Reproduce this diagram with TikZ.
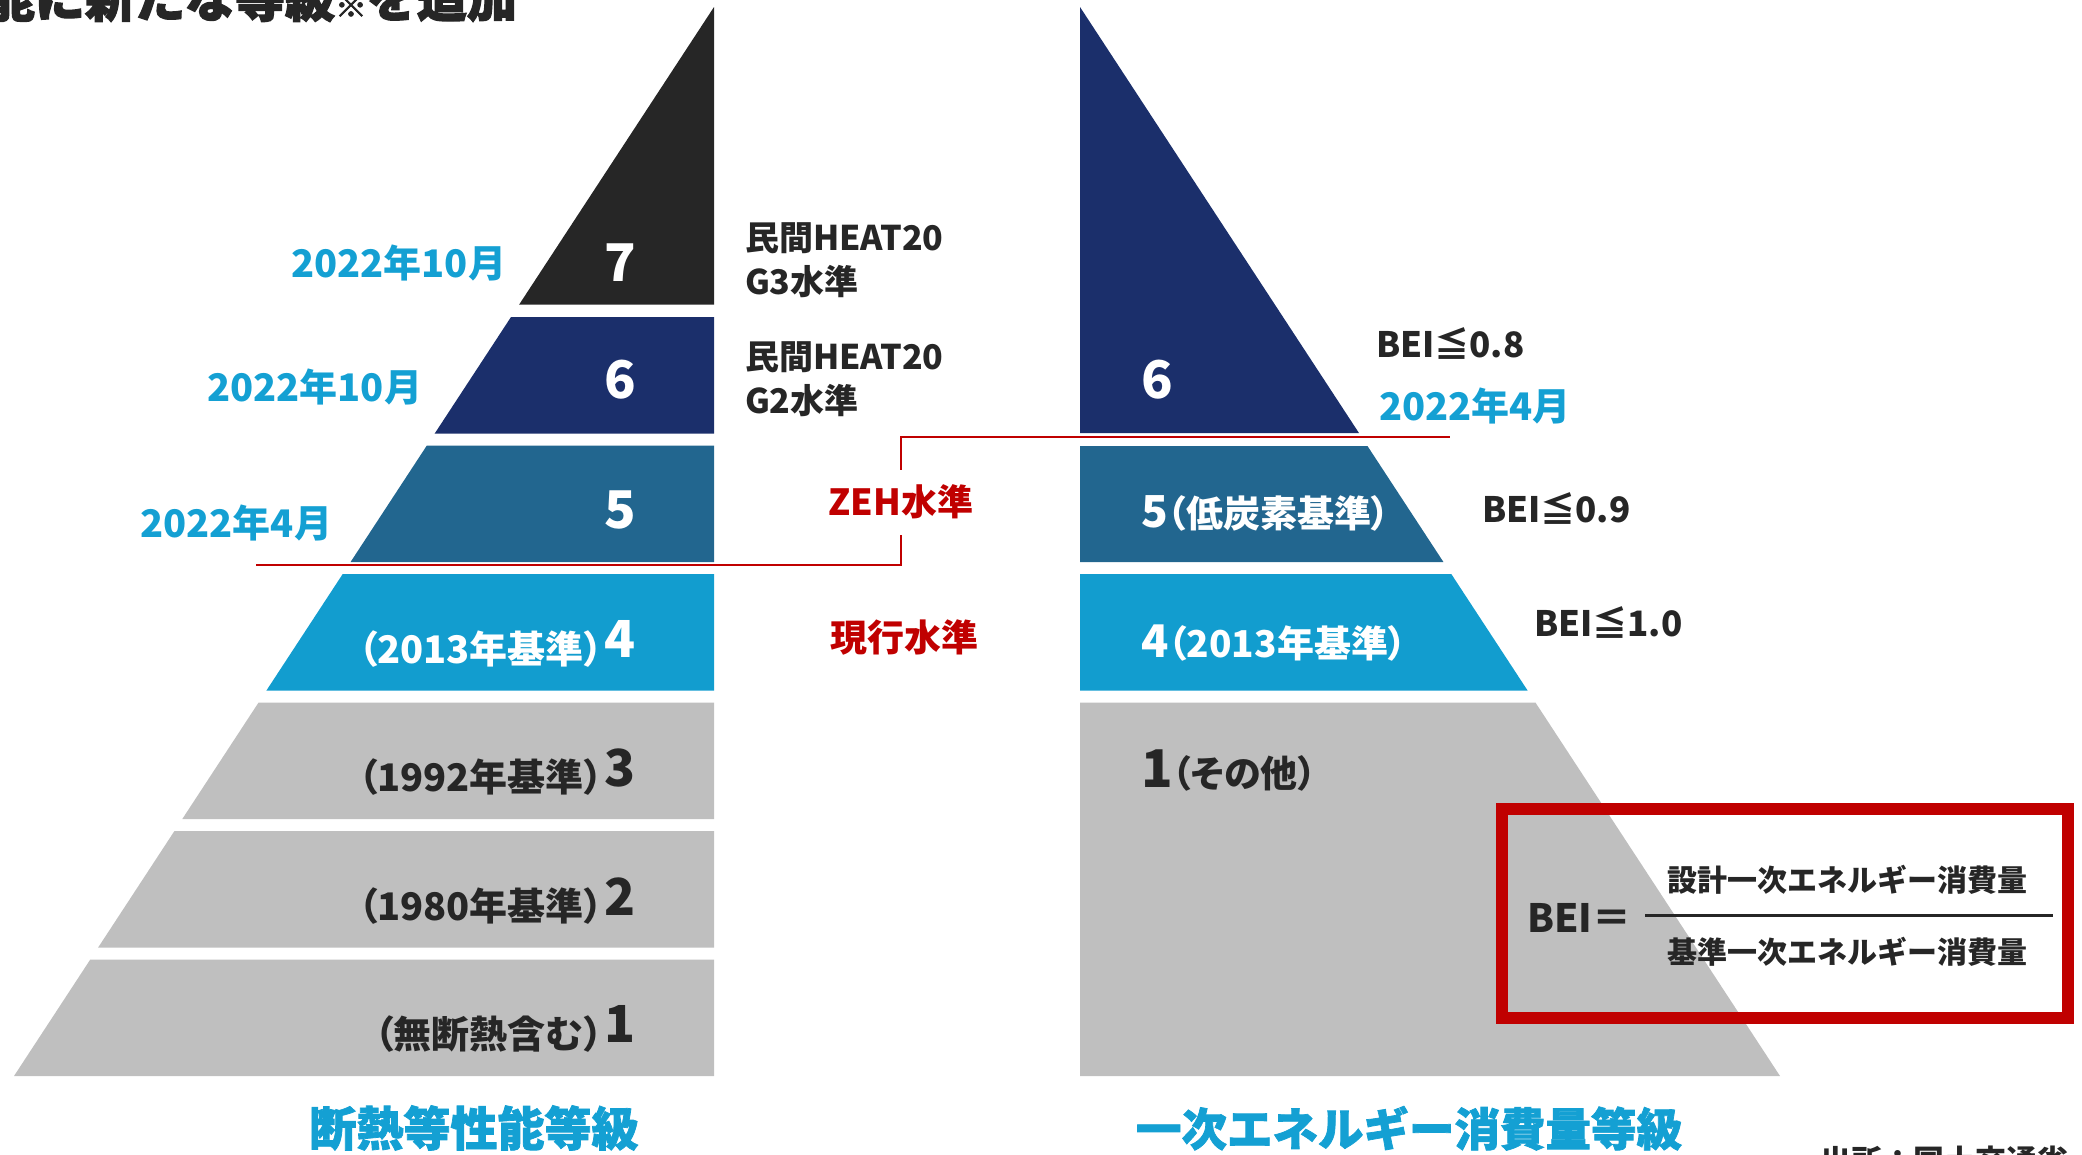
\documentclass[tikz,border=0pt]{standalone}
\usepackage{fontspec}
\setmainfont{Noto Sans CJK JP}
\newfontfamily\jpp{Noto Sans CJK JP}[RawFeature=+palt]
\newfontfamily\jph{Noto Sans CJK JP}[FakeBold=1.6]
\newfontfamily\jphh{Noto Sans CJK JP}[FakeBold=2.5]
\newcommand\fsz[1]{\fontsize{#1}{#1}\selectfont}
\definecolor{cseven}{HTML}{262626}
\definecolor{csix}{HTML}{1B2F6B}
\definecolor{cfive}{HTML}{22668F}
\definecolor{cfour}{HTML}{129DCF}
\definecolor{cgray}{HTML}{BFBFBF}
\definecolor{cred}{HTML}{C00000}
\definecolor{cblue}{HTML}{14A0D3}
\definecolor{cdark}{HTML}{262626}
\newcommand\lband[3]{\fill[#3] ({714-0.65482*(#1-7)},#1) -- (714,#1) -- (714,#2) -- ({714-0.65482*(#2-7)},#2) -- cycle;}
\newcommand\rband[3]{\fill[#3] ({1080+0.65482*(#1-7)},#1) -- (1080,#1) -- (1080,#2) -- ({1080+0.65482*(#2-7)},#2) -- cycle;}
\begin{document}
\begin{tikzpicture}[x=1pt,y=-1pt,
  every node/.style={inner sep=0pt, outer sep=0pt, font=\bfseries},
  lab/.style={anchor=base east},
  rlab/.style={anchor=base west},
  wt/.style={text=white},
  dk/.style={text=cdark},
  bl/.style={text=cblue},
  rd/.style={text=cred},
  redline/.style={draw=cred, line width=2.6pt},
]
\useasboundingbox (0,0) rectangle (2082,1154);
\clip (0,0) rectangle (2082,1154);
% left pyramid
\lband{7}{304.5}{cseven}
\lband{317}{433.5}{csix}
\lband{445.5}{562}{cfive}
\lband{574}{690.5}{cfour}
\lband{702.5}{819}{cgray}
\lband{831}{947.5}{cgray}
\lband{959.5}{1076}{cgray}
% right pyramid
\rband{7}{433}{csix}
\rband{446}{562}{cfive}
\rband{574}{690.5}{cfour}
\rband{702.5}{1076}{cgray}
% top title (cut off)
\node[anchor=base east, dk] (title) at (517,17) {\jphh\fsz{50}能に新たな等級{\fsz{32}※}を追加};
% left labels
\node[lab, wt] (l7) at (636,281) {\fsz{52}7};
\node[lab, wt] (l6) at (636,398) {\fsz{52}6};
\node[lab, wt] (l5) at (636,528) {\fsz{52}5};
\node[lab, wt] (l4) at (636,663) {\jpp\fsz{38}（2013年基準）\kern2pt\raisebox{6pt}{\fsz{51}4}};
\node[lab, dk] (l3) at (636,791.5) {\jpp\fsz{38}（1992年基準）\kern2pt\raisebox{5pt}{\fsz{51}3}};
\node[lab, dk] (l2) at (636,920) {\jpp\fsz{38}（1980年基準）\kern2pt\raisebox{5pt}{\fsz{51}2}};
\node[lab, dk] (l1) at (636,1048.5) {\jpp\fsz{38}（無断熱含む）\kern2pt\raisebox{6pt}{\fsz{51}1}};
% dates
\node[lab, bl] (d7) at (506,277) {\fsz{38}2022年10月};
\node[lab, bl] (d6) at (422,401) {\fsz{38}2022年10月};
\node[lab, bl] (d5) at (332,537) {\fsz{38}2022年4月};
\node[rlab, bl] (dr) at (1379,420) {\fsz{38}2022年4月};
% HEAT20 labels
\node[anchor=base west, dk] (g3a) at (745,250) {\fsz{34}民間HEAT20};
\node[anchor=base west, dk] (g3b) at (745,294) {\fsz{34}G3水準};
\node[anchor=base west, dk] (g2a) at (745,369) {\fsz{34}民間HEAT20};
\node[anchor=base west, dk] (g2b) at (745,413) {\fsz{34}G2水準};
% ZEH bracket
\node[rd, minimum height=65pt] (zeh) at (901,502) {\fsz{36}ZEH水準};
\coordinate (zl) at (256,565);
\coordinate (zc) at (901,565);
\coordinate (zt) at (901,437);
\coordinate (zr) at (1450,437);
\draw[redline] (zl) -- (zc) -- (zeh.south);
\draw[redline] (zeh.north) -- (zt) -- (zr);
\node[anchor=base, rd] (gen) at (904,651) {\fsz{37}現行水準};
% right labels
\node[rlab, wt] (r6) at (1141,398) {\fsz{52}6};
\node[rlab, wt] (r5) at (1141,527) {\jpp\fsz{44}5\fsz{37}（低炭素基準）};
\node[rlab, wt] (r4) at (1141,657) {\jpp\fsz{45}4\fsz{37}（2013年基準）};
\node[rlab, dk] (r1) at (1141,787) {\jpp\fsz{52}1\fsz{37}（その他）};
% BEI values
\node[rlab, dk] (b8) at (1376,357) {\jpp\fsz{35}BEI≦0.8};
\node[rlab, dk] (b9) at (1482,522) {\jpp\fsz{35}BEI≦0.9};
\node[rlab, dk] (b10) at (1534,636) {\jpp\fsz{35}BEI≦1.0};
% BEI formula box
\node[draw=cred, line width=12pt, minimum width=566pt, minimum height=209pt] (box) at (1785,913.5) {};
\node[rlab, dk] (bei) at (1527,932) {\fsz{39}BEI＝};
\coordinate (fl) at (1645,915);
\coordinate (fr) at (2053,915);
\draw[cdark, line width=3pt] (fl) -- (fr);
\node[anchor=base, dk] (num) at (1847,891) {\fsz{30}設計一次エネルギー消費量};
\node[anchor=base, dk] (den) at (1847,963) {\fsz{30}基準一次エネルギー消費量};
% bottom titles
\node[anchor=base, bl] (t1) at (474,1146) {\jph\fsz{47}断熱等性能等級};
\node[anchor=base, bl] (t2) at (1409,1146) {\jph\fsz{45.5}一次エネルギー消費量等級};
\node[anchor=base west, dk] (src) at (1820,1172) {\fsz{31}出所：国土交通省};
\end{tikzpicture}
\end{document}
